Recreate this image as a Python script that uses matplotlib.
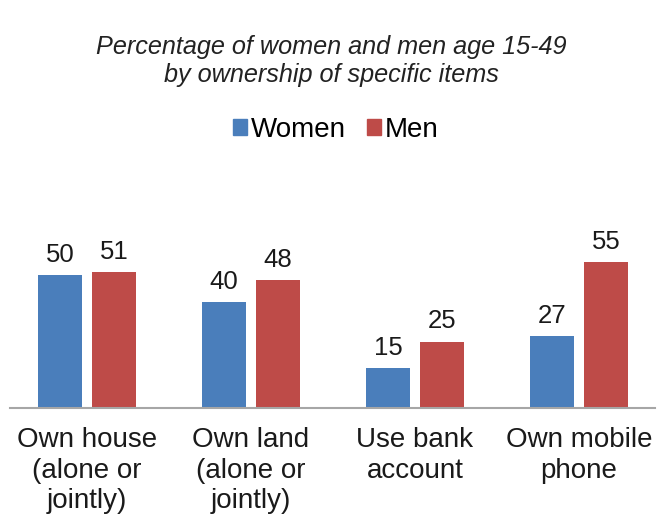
import numpy as np
import matplotlib
matplotlib.use("Agg")
from matplotlib import pyplot as plt
from matplotlib.patches import Patch

plt.rcParams['font.family'] = ['Liberation Sans', 'DejaVu Sans']

categories = ["Own house\n(alone or\njointly)", "Own land\n(alone or\njointly)",
              "Use bank\naccount", "Own mobile\nphone"]
women = [50, 40, 15, 27]
men = [51, 48, 25, 55]

BLUE = "#4A7EBB"
RED = "#BE4B48"

fig = plt.figure(figsize=(6.62, 5.22), dpi=100, facecolor="white")
ax = fig.add_axes([10 / 662, 114 / 522, 645 / 662, 208 / 522])

x = np.arange(len(categories))
w = 0.268
off = 0.165
b1 = ax.bar(x - off, women, w, color=BLUE)
b2 = ax.bar(x + off, men, w, color=RED)

# value labels above each bar
for bars, vals in ((b1, women), (b2, men)):
    for rect, v in zip(bars, vals):
        ax.text(rect.get_x() + rect.get_width() / 2, v + 4.9, str(v),
                ha="center", va="baseline", fontsize=18.5, color="#1a1a1a")

ax.set_xlim(-0.4695, 3.463)
ax.set_ylim(0, 78.2)
ax.set_yticks([])
ax.set_xticks(x)
ax.set_xticklabels(categories, fontsize=20, color="#1a1a1a", linespacing=1.22, va="top")
ax.tick_params(axis="x", length=0, pad=14)
for s in ("top", "right", "left"):
    ax.spines[s].set_visible(False)
ax.spines["bottom"].set_color("#a6a6a6")
ax.spines["bottom"].set_linewidth(1.5)

fig.text(0.5, 1 - 61 / 522, "Percentage of women and men age 15-49\nby ownership of specific items",
         ha="center", va="center", fontsize=18.2, style="italic", color="#222222",
         linespacing=1.25)

handles = [Patch(color=BLUE), Patch(color=RED)]
fig.legend(handles, ["Women", "Men"], loc="center", bbox_to_anchor=(0.5076, 1 - 130 / 522),
           ncol=2, frameon=False, fontsize=20, handlelength=0.5, handleheight=0.5,
           handletextpad=0.15, columnspacing=0.75)

plt.savefig("out.png", dpi=100, facecolor="white")
